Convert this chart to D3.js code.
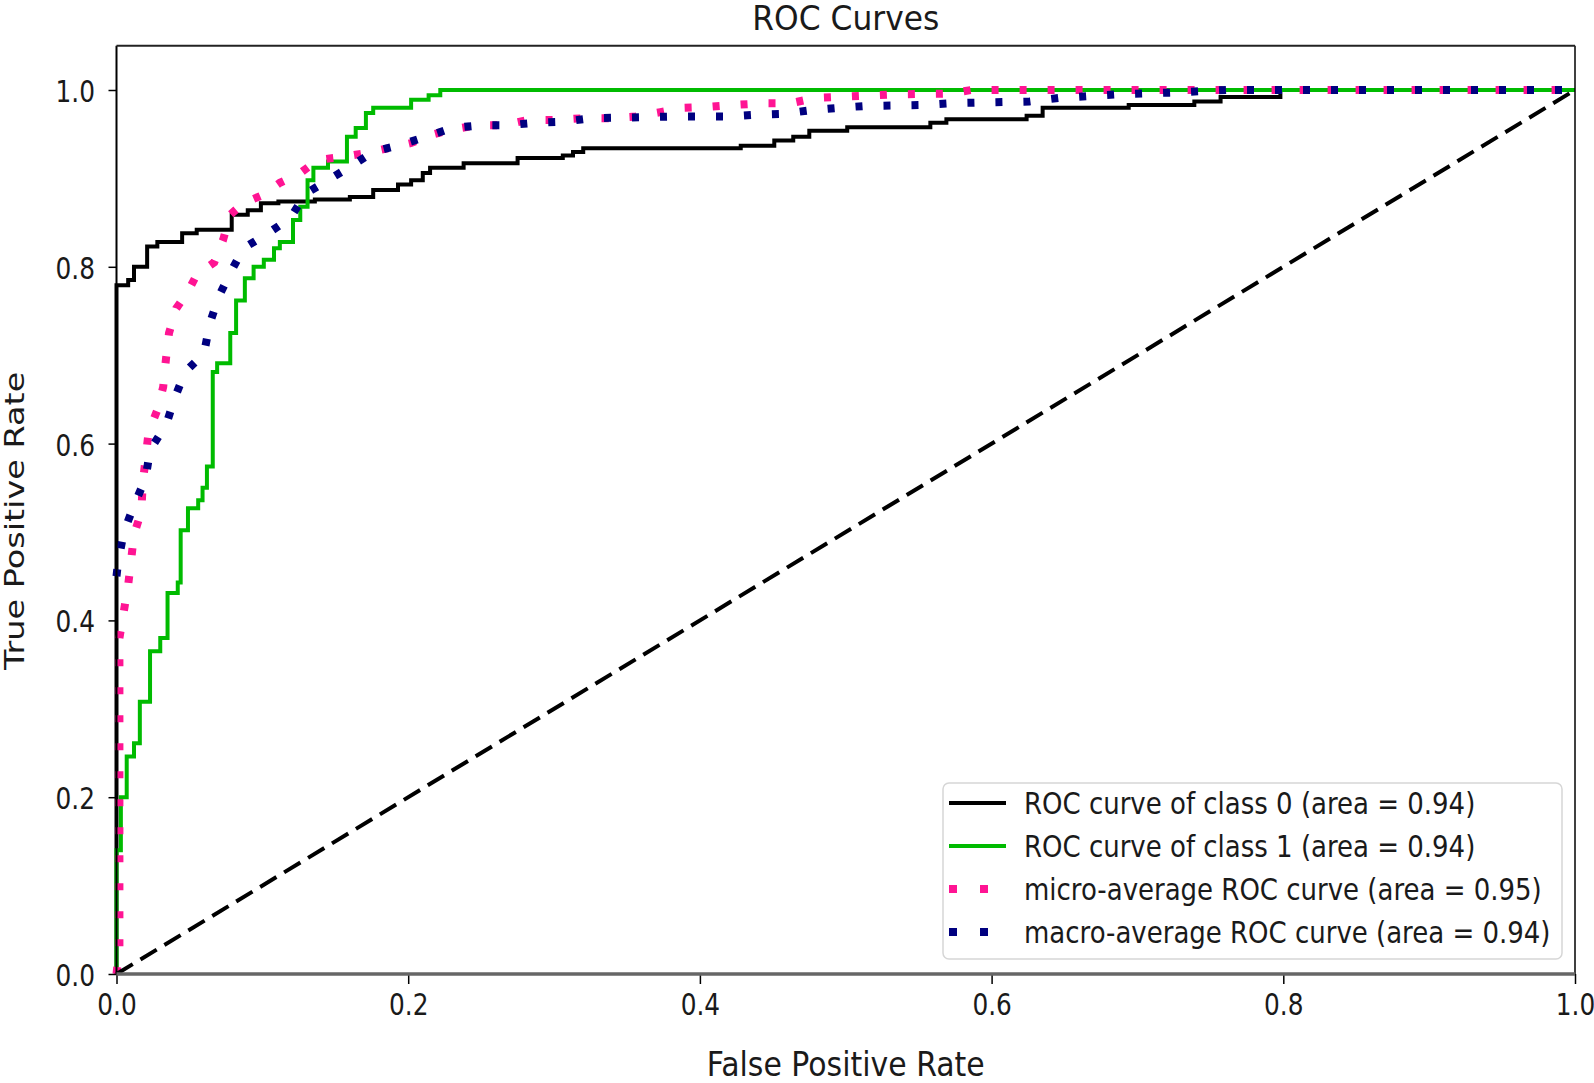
<!DOCTYPE html>
<html>
<head>
<meta charset="utf-8">
<script src="https://cdn.jsdelivr.net/npm/d3@7"></script>
<style>
  html, body { margin: 0; padding: 0; background: #ffffff; }
  svg { display: block; }
  text { font-family: "DejaVu Sans", sans-serif; fill: #1a1a1a; }
</style>
</head>
<body>
<svg id="chart" width="1594" height="1083"></svg>
<script>
// ---------- data ----------
const titleText = "ROC Curves";
const xLabelText = "False Positive Rate";
const yLabelText = "True Positive Rate";
const xTicks = [0.0, 0.2, 0.4, 0.6, 0.8, 1.0];
const yTicks = [0.0, 0.2, 0.4, 0.6, 0.8, 1.0];

const seriesNames = [
  "ROC curve of class 0 (area = 0.94)",
  "ROC curve of class 1 (area = 0.94)",
  "micro-average ROC curve (area = 0.95)",
  "macro-average ROC curve (area = 0.94)"
];

// class 0 : corner points (fpr, tpr)
const class0Fpr = [0, 0, 0.008, 0.012, 0.021, 0.028, 0.045, 0.055, 0.079, 0.090, 0.099, 0.111, 0.136, 0.160, 0.176, 0.193, 0.202, 0.210, 0.215, 0.238, 0.275, 0.306, 0.313, 0.320, 0.428, 0.451, 0.464, 0.475, 0.501, 0.558, 0.569, 0.624, 0.635, 0.694, 0.739, 0.757, 0.798, 1.0];
const class0Tpr = [0, 0.779, 0.785, 0.800, 0.823, 0.828, 0.838, 0.842, 0.859, 0.864, 0.872, 0.874, 0.876, 0.879, 0.887, 0.893, 0.898, 0.906, 0.912, 0.917, 0.923, 0.926, 0.930, 0.934, 0.937, 0.943, 0.947, 0.954, 0.958, 0.963, 0.967, 0.971, 0.980, 0.983, 0.987, 0.992, 1.0, 1.0];

// class 1
const class1Fpr = [0, 0, 0.003, 0.007, 0.012, 0.016, 0.023, 0.030, 0.035, 0.042, 0.044, 0.049, 0.056, 0.059, 0.062, 0.066, 0.069, 0.078, 0.082, 0.088, 0.094, 0.101, 0.108, 0.112, 0.121, 0.126, 0.131, 0.135, 0.145, 0.158, 0.164, 0.171, 0.176, 0.202, 0.214, 0.222, 1.0];
const class1Tpr = [0, 0.14, 0.20, 0.246, 0.261, 0.308, 0.365, 0.38, 0.431, 0.443, 0.502, 0.527, 0.536, 0.55, 0.574, 0.681, 0.691, 0.725, 0.762, 0.787, 0.80, 0.808, 0.821, 0.828, 0.853, 0.868, 0.898, 0.912, 0.919, 0.947, 0.957, 0.974, 0.98, 0.989, 0.994, 1.0, 1.0];

// micro-average
const microFpr = [0, 0.002, 0.002, 0.005, 0.008, 0.010, 0.012, 0.017, 0.018, 0.020, 0.022, 0.028, 0.032, 0.034, 0.036, 0.041, 0.049, 0.055, 0.067, 0.073, 0.078, 0.087, 0.100, 0.112, 0.126, 0.138, 0.154, 0.172, 0.186, 0.202, 0.215, 0.229, 0.247, 0.265, 0.282, 0.301, 0.319, 0.337, 0.356, 0.373, 0.389, 0.407, 0.423, 0.443, 0.462, 0.479, 0.534, 0.571, 0.586, 1.0];
const microTpr = [0, 0.03, 0.38, 0.41, 0.44, 0.468, 0.497, 0.523, 0.555, 0.584, 0.613, 0.638, 0.664, 0.697, 0.725, 0.753, 0.772, 0.791, 0.805, 0.83, 0.859, 0.872, 0.881, 0.895, 0.906, 0.921, 0.924, 0.929, 0.934, 0.94, 0.949, 0.955, 0.96, 0.96, 0.966, 0.966, 0.968, 0.968, 0.97, 0.975, 0.98, 0.981, 0.983, 0.985, 0.985, 0.991, 0.995, 0.996, 1.0, 1.0];

// macro-average (starts at fpr 0 with the mean of both classes)
const macroFpr = [0, 0.001, 0.005, 0.012, 0.020, 0.023, 0.034, 0.040, 0.047, 0.060, 0.064, 0.070, 0.078, 0.087, 0.104, 0.119, 0.130, 0.145, 0.162, 0.176, 0.195, 0.212, 0.230, 0.249, 0.268, 0.287, 0.306, 0.325, 0.382, 0.419, 0.438, 0.457, 0.475, 0.496, 0.514, 0.552, 0.571, 0.626, 0.646, 0.665, 0.685, 0.722, 0.761, 1.0];
const macroTpr = [0.45, 0.465, 0.5, 0.53, 0.561, 0.593, 0.621, 0.652, 0.681, 0.702, 0.736, 0.766, 0.793, 0.821, 0.838, 0.855, 0.883, 0.898, 0.915, 0.93, 0.938, 0.947, 0.957, 0.96, 0.96, 0.963, 0.964, 0.968, 0.970, 0.970, 0.972, 0.973, 0.977, 0.98, 0.982, 0.983, 0.985, 0.987, 0.991, 0.993, 0.995, 0.997, 1.0, 1.0];

const chanceLine = [[0, 0], [1, 1]];

// ---------- styles ----------
const colors = ["#000000", "#00bb00", "#ff1493", "#000080"];
const TX = 0.8;      // horizontal squeeze of glyphs seen in the reference
const svg = d3.select("#chart");

const x = d3.scaleLinear().domain([0, 1]).range([116.5, 1575]);
const y = d3.scaleLinear().domain([0, 1.05]).range([974, 45.8]);

const zip = (a, b) => a.map((v, i) => [v, b[i]]);

// ---------- curves ----------
const plot = svg.append("g");
plot.append("clipPath").attr("id", "clip").append("rect")
  .attr("x", x(0) - 6).attr("y", y(1.05)).attr("width", x(1) - x(0) + 12).attr("height", y(0) - y(1.05) + 6);
const curves = plot.append("g").attr("clip-path", "url(#clip)");

const stepLine = d3.line().x(d => x(d[0])).y(d => y(d[1])).curve(d3.curveStepAfter);
const linLine = d3.line().x(d => x(d[0])).y(d => y(d[1]));

curves.append("path").datum(zip(class0Fpr, class0Tpr))
  .attr("d", stepLine).attr("fill", "none").attr("stroke", colors[0]).attr("stroke-width", 4);
curves.append("path").datum(zip(class1Fpr, class1Tpr))
  .attr("d", stepLine).attr("fill", "none").attr("stroke", colors[1]).attr("stroke-width", 4);
curves.append("path").datum(zip(microFpr, microTpr))
  .attr("d", linLine).attr("fill", "none").attr("stroke", colors[2]).attr("stroke-width", 8)
  .attr("stroke-dasharray", "7 21");
curves.append("path").datum(zip(macroFpr, macroTpr))
  .attr("d", linLine).attr("fill", "none").attr("stroke", colors[3]).attr("stroke-width", 8)
  .attr("stroke-dasharray", "7 21");
curves.append("path").datum(chanceLine)
  .attr("d", linLine).attr("fill", "none").attr("stroke", "#000").attr("stroke-width", 4)
  .attr("stroke-dasharray", "19 9");

// ---------- axes ----------
const fmt = d3.format(".1f");
const yAxis = svg.append("g").attr("transform", `translate(${x(0)},0)`)
  .call(d3.axisLeft(y).tickValues(yTicks).tickSize(8).tickFormat(fmt));
yAxis.select(".domain").remove();
yAxis.selectAll(".tick line").attr("stroke", "#000").attr("stroke-width", 1.5);
yAxis.selectAll(".tick text")
  .attr("x", 0).attr("dy", null).attr("text-anchor", "end")
  .attr("transform", `translate(-21.5,11.5) scale(${TX},1)`)
  .style("font-family", "DejaVu Sans").style("font-size", "31px").attr("fill", "#1a1a1a");

const xAxis = svg.append("g").attr("transform", `translate(0,${y(0)})`)
  .call(d3.axisBottom(x).tickValues(xTicks).tickSize(10).tickFormat(fmt));
xAxis.select(".domain").remove();
xAxis.selectAll(".tick line").attr("stroke", "#000").attr("stroke-width", 1.5);
xAxis.selectAll(".tick text")
  .attr("y", 0).attr("dy", null).attr("text-anchor", "middle")
  .attr("transform", `translate(0,41) scale(${TX},1)`)
  .style("font-family", "DejaVu Sans").style("font-size", "31px").attr("fill", "#1a1a1a");

// spines
const spines = svg.append("g").attr("fill", "none");
spines.append("line").attr("x1", x(0)).attr("x2", x(0)).attr("y1", y(1.05)).attr("y2", y(0))
  .attr("stroke", "#000").attr("stroke-width", 2);
spines.append("line").attr("x1", x(1)).attr("x2", x(1)).attr("y1", y(1.05)).attr("y2", y(0))
  .attr("stroke", "#000").attr("stroke-width", 1.5);
spines.append("line").attr("x1", x(0)).attr("x2", x(1)).attr("y1", y(1.05)).attr("y2", y(1.05))
  .attr("stroke", "#222").attr("stroke-width", 2);
spines.append("line").attr("x1", x(0)).attr("x2", x(1)).attr("y1", y(0)).attr("y2", y(0))
  .attr("stroke", "#666").attr("stroke-width", 3.5);

// ---------- texts ----------
svg.append("text").text(titleText)
  .attr("transform", `translate(${(x(0) + x(1)) / 2},29.5) scale(0.95,1)`)
  .attr("text-anchor", "middle").style("font-size", "33px");

svg.append("text").text(xLabelText)
  .attr("transform", `translate(${(x(0) + x(1)) / 2},1076) scale(0.88,1)`)
  .attr("text-anchor", "middle").style("font-size", "34px");

svg.append("text").text(yLabelText)
  .attr("transform", `translate(24,${(y(0) + y(1.05)) / 2 + 11}) rotate(-90) scale(1,0.78)`)
  .attr("text-anchor", "middle").style("font-size", "33.5px");

// ---------- legend ----------
const lg = svg.append("g").attr("transform", "translate(943,783)");
lg.append("rect").attr("width", 619).attr("height", 176).attr("rx", 6)
  .attr("fill", "#ffffff").attr("fill-opacity", 0.8)
  .attr("stroke", "#d6d6d6").attr("stroke-width", 1.5);
const rowY = i => 20 + i * 43;
const handleStyles = [
  { w: 4, dash: null }, { w: 4, dash: null },
  { w: 8, dash: "8 23" }, { w: 8, dash: "8 23" }
];
seriesNames.forEach((name, i) => {
  const hl = lg.append("line").attr("x1", 6).attr("x2", 63)
    .attr("y1", rowY(i)).attr("y2", rowY(i))
    .attr("stroke", colors[i]).attr("stroke-width", handleStyles[i].w);
  if (handleStyles[i].dash) hl.attr("stroke-dasharray", handleStyles[i].dash);
  lg.append("text").text(name)
    .attr("transform", `translate(81,${rowY(i) + 11}) scale(0.85,1)`)
    .style("font-size", "30.6px");
});
</script>
</body>
</html>
